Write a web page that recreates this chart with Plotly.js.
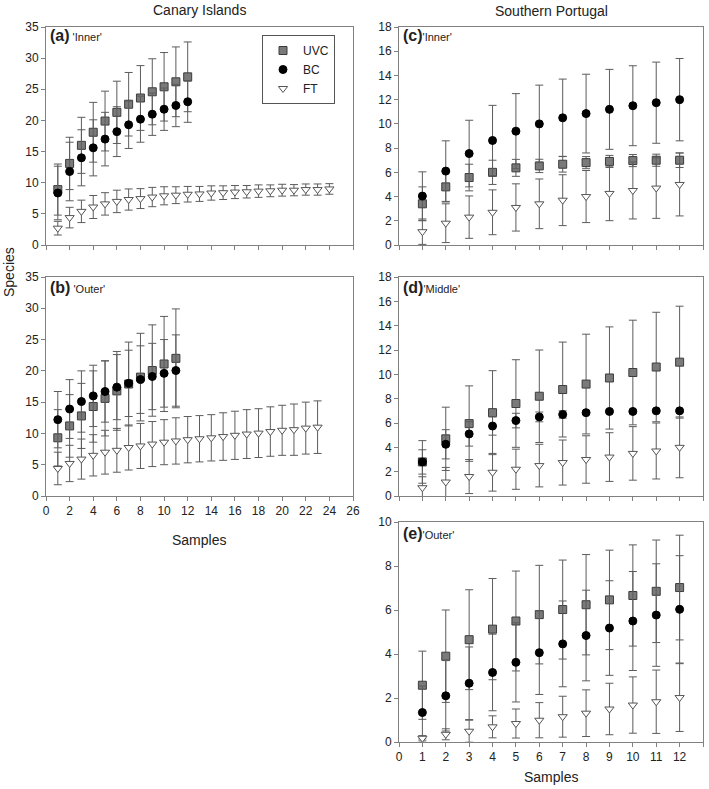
<!DOCTYPE html>
<html>
<head>
<meta charset="utf-8">
<script src="https://cdn.plot.ly/plotly-3.0.1.min.js"></script>
<style>
  html, body { margin: 0; padding: 0; background: #fff; }
  #chart { width: 709px; height: 789px; }
</style>
</head>
<body>
<div id="chart"></div>
<script>
// sample numbers
const samples11 = [1, 2, 3, 4, 5, 6, 7, 8, 9, 10, 11];
const samples12 = [1, 2, 3, 4, 5, 6, 7, 8, 9, 10, 11, 12];
const samples23 = [1, 2, 3, 4, 5, 6, 7, 8, 9, 10, 11, 12, 13, 14, 15, 16, 17, 18, 19, 20, 21, 22, 23];
const samples24 = [1, 2, 3, 4, 5, 6, 7, 8, 9, 10, 11, 12, 13, 14, 15, 16, 17, 18, 19, 20, 21, 22, 23, 24];

// (a) Canary Islands, 'Inner'
const aUVC    = [8.9, 13.1, 16.0, 18.1, 19.9, 21.3, 22.6, 23.6, 24.6, 25.4, 26.2, 27.0];
const aUVCerr = [4.1, 4.2, 4.5, 4.8, 4.8, 5.0, 5.1, 5.2, 5.3, 5.5, 5.6, 5.6];
const aBC     = [8.35, 11.8, 14.0, 15.6, 17.0, 18.2, 19.3, 20.2, 21.0, 21.8, 22.4, 23.0];
const aBCerr  = [4.3, 4.7, 4.5, 4.5, 4.3, 4.0, 3.8, 3.7, 3.4, 3.4, 3.4, 3.3];
const aFT     = [2.7, 4.4, 5.4, 6.1, 6.6, 7.0, 7.3, 7.45, 7.7, 7.9, 8.0, 8.15, 8.2, 8.35, 8.4, 8.5, 8.55, 8.65, 8.7, 8.8, 8.8, 8.9, 8.9, 9.0];
const aFTerr  = [1.1, 1.65, 1.8, 1.85, 1.8, 1.8, 1.7, 1.6, 1.55, 1.45, 1.35, 1.25, 1.2, 1.15, 1.1, 1.05, 1.0, 1.0, 0.95, 0.95, 0.9, 0.9, 0.9, 0.85];

// (b) Canary Islands, 'Outer'
const bUVC    = [9.3, 11.2, 12.8, 14.3, 15.6, 16.8, 17.9, 19.0, 20.05, 21.1, 22.0];
const bUVCerr = [4.5, 5.0, 5.2, 5.7, 6.0, 6.3, 6.7, 7.0, 7.3, 7.6, 7.9];
const bBC     = [12.2, 13.9, 15.1, 16.0, 16.7, 17.4, 18.0, 18.6, 19.1, 19.6, 20.05];
const bBCerr  = [4.5, 4.7, 4.9, 4.9, 4.9, 5.2, 5.3, 5.4, 5.3, 5.4, 5.7];
const bFT     = [4.4, 5.2, 5.9, 6.5, 7.0, 7.3, 7.75, 8.0, 8.3, 8.6, 8.8, 9.0, 9.15, 9.3, 9.5, 9.7, 9.9, 10.05, 10.3, 10.5, 10.6, 10.85, 11.0];
const bFTerr  = [2.6, 2.9, 3.2, 3.3, 3.5, 3.5, 3.6, 3.6, 3.6, 3.6, 3.7, 3.7, 3.7, 3.7, 3.8, 3.85, 3.9, 3.9, 3.95, 4.0, 4.1, 4.15, 4.2];

// (c) Southern Portugal, 'Inner'
const cUVC    = [3.4, 4.8, 5.57, 6.0, 6.37, 6.53, 6.67, 6.8, 6.9, 6.97, 7.0, 7.0];
const cUVCerr = [1.4, 1.25, 1.1, 1.0, 0.7, 0.55, 0.65, 0.5, 0.5, 0.5, 0.5, 0.6];
const cBC     = [4.04, 6.1, 7.55, 8.63, 9.4, 10.0, 10.5, 10.85, 11.2, 11.5, 11.75, 12.0];
const cBCerr  = [2.0, 2.5, 2.75, 2.9, 3.1, 3.2, 3.2, 3.25, 3.3, 3.3, 3.35, 3.4];
const cFT     = [1.1, 1.8, 2.3, 2.7, 3.1, 3.4, 3.7, 4.0, 4.26, 4.5, 4.7, 5.0];
const cFTerr  = [1.05, 1.6, 1.75, 1.85, 1.95, 2.05, 2.1, 2.15, 2.25, 2.35, 2.5, 2.6];

// (d) Southern Portugal, 'Middle'
const dUVC    = [2.8, 4.7, 5.95, 6.85, 7.6, 8.2, 8.75, 9.2, 9.7, 10.15, 10.6, 11.0];
const dUVCerr = [1.75, 2.6, 3.1, 3.45, 3.6, 3.8, 3.9, 4.1, 4.2, 4.3, 4.5, 4.6];
const dBC     = [2.8, 4.25, 5.1, 5.75, 6.2, 6.5, 6.7, 6.85, 6.95, 6.95, 7.0, 7.0];
const dBCerr  = [1.0, 1.2, 1.0, 0.75, 0.6, 0.4, 0.3, 0.15, 0.1, 0.1, 0.1, 0.1];
const dFT     = [0.68, 1.15, 1.6, 1.95, 2.2, 2.5, 2.75, 3.0, 3.2, 3.5, 3.7, 4.0];
const dFTerr  = [0.9, 1.2, 1.4, 1.55, 1.65, 1.75, 1.85, 1.95, 2.0, 2.2, 2.3, 2.5];

// (e) Southern Portugal, 'Outer'
const eUVC    = [2.58, 3.9, 4.65, 5.13, 5.5, 5.79, 6.02, 6.24, 6.46, 6.66, 6.85, 7.02];
const eUVCerr = [1.55, 2.1, 2.27, 2.3, 2.27, 2.24, 2.25, 2.28, 2.26, 2.3, 2.33, 2.38];
const eBC     = [1.34, 2.1, 2.67, 3.16, 3.62, 4.06, 4.46, 4.84, 5.18, 5.5, 5.77, 6.03];
const eBCerr  = [1.2, 1.6, 1.65, 1.74, 1.8, 1.9, 1.95, 2.06, 2.15, 2.25, 2.33, 2.44];
const eFT     = [0.17, 0.35, 0.49, 0.69, 0.84, 0.99, 1.15, 1.31, 1.5, 1.68, 1.83, 2.02];
const eFTerr  = [0.12, 0.25, 0.5, 0.5, 0.66, 0.8, 0.93, 1.06, 1.17, 1.28, 1.44, 1.54];

const FONT = 'Liberation Sans, Arial, sans-serif';
const ERR_COLOR = '#5c5c5c';

const markerStyle = {
    UVC: { symbol: 'square', size: 8, color: '#7a7a7a', line: { color: '#3c3c3c', width: 1 } },
    BC:  { symbol: 'circle', size: 8, color: '#000000', line: { color: '#000000', width: 1 } },
    FT:  { symbol: 'triangle-down', size: 8, color: '#ffffff', line: { color: '#555555', width: 1 } }
};

function series(name, x, y, err, xa, ya, showLegend) {
    return {
        type: 'scatter',
        mode: 'markers',
        name: name,
        x: x,
        y: y,
        xaxis: xa,
        yaxis: ya,
        showlegend: showLegend,
        marker: markerStyle[name],
        error_y: { type: 'data', array: err, visible: true, color: ERR_COLOR, thickness: 1, width: 4 }
    };
}

const traces = [
    series('UVC', samples12, aUVC, aUVCerr, 'x', 'y', true),
    series('BC', samples12, aBC, aBCerr, 'x', 'y', true),
    series('FT', samples24, aFT, aFTerr, 'x', 'y', true),

    series('UVC', samples11, bUVC, bUVCerr, 'x2', 'y2', false),
    series('BC', samples11, bBC, bBCerr, 'x2', 'y2', false),
    series('FT', samples23, bFT, bFTerr, 'x2', 'y2', false),

    series('UVC', samples12, cUVC, cUVCerr, 'x3', 'y3', false),
    series('BC', samples12, cBC, cBCerr, 'x3', 'y3', false),
    series('FT', samples12, cFT, cFTerr, 'x3', 'y3', false),

    series('UVC', samples12, dUVC, dUVCerr, 'x4', 'y4', false),
    series('BC', samples12, dBC, dBCerr, 'x4', 'y4', false),
    series('FT', samples12, dFT, dFTerr, 'x4', 'y4', false),

    series('UVC', samples12, eUVC, eUVCerr, 'x5', 'y5', false),
    series('BC', samples12, eBC, eBCerr, 'x5', 'y5', false),
    series('FT', samples12, eFT, eFTerr, 'x5', 'y5', false)
];

// pixel layout of the picture -> paper fractions
const W = 709, H = 789;
const px = v => v / W;
const py = v => 1 - v / H;
const leftDom = [px(46), px(353)];
const rightDom = [px(399), px(703)];
const row1 = [py(245), py(27)];
const row2 = [py(496), py(277)];
const row3 = [py(742), py(522)];

function axisBase(extra) {
    return Object.assign({
        showline: true, mirror: true, linecolor: '#808080', linewidth: 1,
        ticks: 'outside', ticklen: 4, tickcolor: '#808080', tickwidth: 1,
        showgrid: false, zeroline: false, fixedrange: true,
        tickfont: { family: FONT, size: 12, color: '#222' }
    }, extra);
}

const leftX = { range: [0, 26], tickmode: 'linear', tick0: 0, dtick: 2 };
const rightX = { range: [0, 13], tickmode: 'linear', tick0: 0, dtick: 1 };

function label(text, x, y, opts) {
    return Object.assign({
        text: text, x: px(x), y: py(y), xref: 'paper', yref: 'paper',
        xanchor: 'center', yanchor: 'middle', showarrow: false, font: { size: 14 }
    }, opts || {});
}

const layout = {
    width: W, height: H,
    margin: { l: 0, r: 0, t: 0, b: 0 },
    paper_bgcolor: '#fff', plot_bgcolor: '#fff',
    font: { family: FONT, size: 12, color: '#222' },
    xaxis:  axisBase(Object.assign({ domain: leftDom, anchor: 'y', showticklabels: false }, leftX)),
    yaxis:  axisBase({ domain: row1, anchor: 'x', range: [0, 35], dtick: 5 }),
    xaxis2: axisBase(Object.assign({ domain: leftDom, anchor: 'y2' }, leftX)),
    yaxis2: axisBase({ domain: row2, anchor: 'x2', range: [0, 35], dtick: 5 }),
    xaxis3: axisBase(Object.assign({ domain: rightDom, anchor: 'y3', showticklabels: false }, rightX)),
    yaxis3: axisBase({ domain: row1, anchor: 'x3', range: [0, 18], dtick: 2 }),
    xaxis4: axisBase(Object.assign({ domain: rightDom, anchor: 'y4', showticklabels: false }, rightX)),
    yaxis4: axisBase({ domain: row2, anchor: 'x4', range: [0, 18], dtick: 2 }),
    xaxis5: axisBase(Object.assign({ domain: rightDom, anchor: 'y5' }, rightX)),
    yaxis5: axisBase({ domain: row3, anchor: 'x5', range: [0, 10], dtick: 2 }),
    legend: {
        x: px(262), y: py(35), xanchor: 'left', yanchor: 'top',
        bgcolor: '#fff', bordercolor: '#555', borderwidth: 1,
        font: { family: FONT, size: 12, color: '#222' },
        itemwidth: 30, tracegroupgap: 0
    },
    annotations: [
        label('Canary Islands', 199, 10),
        label('Southern Portugal', 551, 11),
        label('Species', 9, 272, { textangle: -90 }),
        label('Samples', 199, 540),
        label('Samples', 551, 777),
        label("<b>(a)</b><span style='font-size:11px'> 'Inner'</span>", 48, 36, { xanchor: 'left', font: { size: 16 } }),
        label("<b>(b)</b><span style='font-size:11px'> 'Outer'</span>", 48, 287, { xanchor: 'left', font: { size: 16 } }),
        label("<b>(c)</b><span style='font-size:11px'>'Inner'</span>", 401, 36, { xanchor: 'left', font: { size: 16 } }),
        label("<b>(d)</b><span style='font-size:11px'>'Middle'</span>", 401, 287, { xanchor: 'left', font: { size: 16 } }),
        label("<b>(e)</b><span style='font-size:11px'>'Outer'</span>", 401, 533, { xanchor: 'left', font: { size: 16 } })
    ]
};

Plotly.newPlot('chart', traces, layout, { displayModeBar: false, staticPlot: true });
</script>
</body>
</html>
